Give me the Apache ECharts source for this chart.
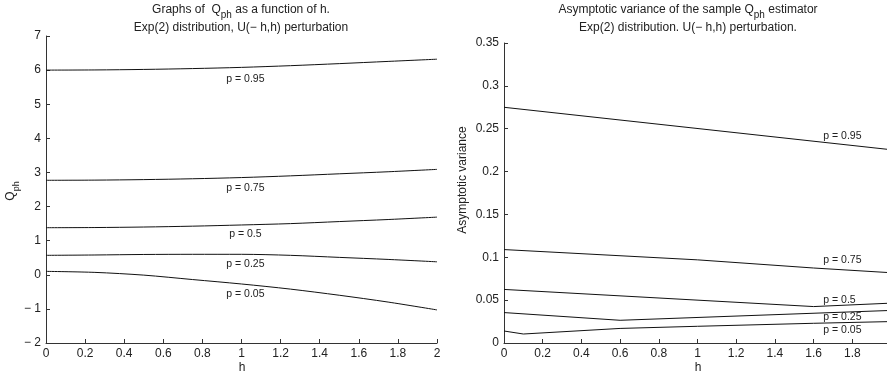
<!DOCTYPE html>
<html><head><meta charset="utf-8">
<script src="https://cdn.jsdelivr.net/npm/echarts@6/dist/echarts.min.js"></script>
<style>html,body{margin:0;padding:0;background:#fff}#c{width:887px;height:377px}</style>
</head><body><div id="c"></div>
<script>
// ---- data: left panel (Q_ph as a function of h) ----
const hLeft = [0, 0.25, 0.5, 0.75, 1, 1.25, 1.5, 1.75, 2];
const q95 = [6.00, 6.005, 6.02, 6.045, 6.08, 6.13, 6.19, 6.255, 6.32];
const q75 = [2.77, 2.775, 2.79, 2.815, 2.85, 2.90, 2.96, 3.02, 3.09];
const q50 = [1.38, 1.385, 1.40, 1.425, 1.46, 1.50, 1.56, 1.62, 1.69];
const q25 = [0.57, 0.58, 0.595, 0.60, 0.60, 0.57, 0.51, 0.45, 0.38];
const q05 = [0.10, 0.07, -0.01, -0.14, -0.27, -0.42, -0.60, -0.80, -1.03];

// ---- data: right panel (asymptotic variance) ----
const hV95 = [0, 2];                     const v95 = [0.275, 0.2255];
const hV75 = [0, 1, 1.6, 2];             const v75 = [0.109, 0.097, 0.0875, 0.082];
const hV50 = [0, 1.6, 2];                const v50 = [0.0625, 0.0425, 0.0465];
const hV25 = [0, 0.6, 2];                const v25 = [0.0355, 0.0265, 0.038];
const hV05 = [0, 0.1, 0.6, 1, 1.6, 2];   const v05 = [0.014, 0.0105, 0.017, 0.0195, 0.023, 0.025];

const curveLabels = ['p = 0.95', 'p = 0.75', 'p = 0.5', 'p = 0.25', 'p = 0.05'];
const xTicks = [0, 0.2, 0.4, 0.6, 0.8, 1, 1.2, 1.4, 1.6, 1.8, 2];

// ---- layout constants ----
const FONT = "'Liberation Sans', Arial, Helvetica, sans-serif";
const leftLabelH = 1.02, leftLabelDy = [12, 10.5, 9.5, 10, 10];
const rightLabelH = 1.65, rightLabelDy = [-6.5, -8, -6, 4, 7];

function pairs(xs, ys) { return xs.map((x, i) => [x, ys[i]]); }
function interp(xs, ys, x) {
  for (let i = 0; i < xs.length - 1; i++) {
    if (x >= xs[i] && x <= xs[i + 1]) {
      const t = (x - xs[i]) / (xs[i + 1] - xs[i]);
      return ys[i] + t * (ys[i + 1] - ys[i]);
    }
  }
  return ys[ys.length - 1];
}
const fmtNum = v => {
  const r = +(+v).toFixed(2);
  return r < 0 ? '\u2212 ' + (-r) : String(r);
};

function mkX(gi) {
  return {
    type: 'value', gridIndex: gi, min: 0, max: 2, interval: 0.2,
    axisLine: { show: true, onZero: false, lineStyle: { color: '#333', width: 1 } },
    axisTick: { show: true, inside: true, length: 4, lineStyle: { color: '#333' } },
    axisLabel: { fontSize: 12, color: '#222', margin: 5, fontFamily: FONT, formatter: fmtNum,
      showMinLabel: true, showMaxLabel: true, hideOverlap: false },
    splitLine: { show: false }
  };
}
function mkY(gi, min, max, interval) {
  return {
    type: 'value', gridIndex: gi, min: min, max: max, interval: interval,
    axisLine: { show: true, onZero: false, lineStyle: { color: '#333', width: 1 } },
    axisTick: { show: true, inside: true, length: 4, lineStyle: { color: '#333' } },
    axisLabel: { fontSize: 12, color: '#222', margin: 5, fontFamily: FONT, formatter: fmtNum },
    splitLine: { show: false }
  };
}

function mkSeries(gi, xs, ys, label, lh, dy, align, smooth) {
  return {
    type: 'line', xAxisIndex: gi, yAxisIndex: gi,
    data: pairs(xs, ys), symbol: 'none', smooth: smooth,
    lineStyle: { color: '#111', width: 1 },
    silent: true,
    markPoint: {
      symbol: 'circle', symbolSize: 0, silent: true, animation: false,
      data: [{
        coord: [lh, interp(xs, ys, lh)],
        label: { show: true, position: 'inside', formatter: label, offset: [0, dy],
          align: align, verticalAlign: 'middle', color: '#222', fontSize: 10.5, fontFamily: FONT }
      }]
    }
  };
}

const leftSets = [q95, q75, q50, q25, q05];
const rightSets = [[hV95, v95], [hV75, v75], [hV50, v50], [hV25, v25], [hV05, v05]];

const series = [];
leftSets.forEach((ys, i) => series.push(mkSeries(0, hLeft, ys, curveLabels[i], leftLabelH, leftLabelDy[i], 'center', 0.3)));
rightSets.forEach((s, i) => series.push(mkSeries(1, s[0], s[1], curveLabels[i], rightLabelH, rightLabelDy[i], 'left', false)));

const txtBase = { fill: '#222', fontFamily: FONT };
const titleRich = {
  a: { fontSize: 12, fontFamily: FONT, color: '#222', verticalAlign: 'bottom', padding: [0, 0, 4, 0], lineHeight: 14 },
  s: { fontSize: 10, fontFamily: FONT, color: '#222', verticalAlign: 'bottom', lineHeight: 12 }
};

const chart = echarts.init(document.getElementById('c'), null, { renderer: 'canvas' });
chart.setOption({
  animation: false,
  backgroundColor: '#fff',
  grid: [
    { left: 46, top: 36, width: 391, height: 307, outerBoundsMode: 'none', containLabel: false },
    { left: 504, top: 43, width: 387, height: 300, outerBoundsMode: 'none', containLabel: false }
  ],
  xAxis: [mkX(0), mkX(1)],
  yAxis: [mkY(0, -2, 7, 1), mkY(1, 0, 0.35, 0.05)],
  series: series,
  graphic: [
    { type: 'text', x: 241, y: 13, style: Object.assign({}, txtBase, {
        text: '{a|Graphs of  Q}{s|ph}{a| as a function of h.}', rich: titleRich, align: 'center', verticalAlign: 'middle' }) },
    { type: 'text', x: 241, y: 28, style: Object.assign({}, txtBase, {
        text: 'Exp(2) distribution, U(\u2212 h,h) perturbation', fontSize: 12, align: 'center', verticalAlign: 'middle' }) },
    { type: 'text', x: 688, y: 13, style: Object.assign({}, txtBase, {
        text: '{a|Asymptotic variance of the sample Q}{s|ph}{a| estimator}', rich: titleRich, align: 'center', verticalAlign: 'middle' }) },
    { type: 'text', x: 688, y: 28, style: Object.assign({}, txtBase, {
        text: 'Exp(2) distribution. U(\u2212 h,h) perturbation.', fontSize: 12, align: 'center', verticalAlign: 'middle' }) },
    { type: 'text', x: 14, y: 191, rotation: Math.PI / 2, style: Object.assign({}, txtBase, {
        text: '{a|Q}{s|ph}', rich: {
          a: { fontSize: 12, fontFamily: FONT, color: '#222', verticalAlign: 'bottom', padding: [0, 0, 4, 0], lineHeight: 14 },
          s: { fontSize: 9, fontFamily: FONT, color: '#222', verticalAlign: 'bottom', lineHeight: 11 }
        }, align: 'center', verticalAlign: 'middle' }) },
    { type: 'text', x: 463, y: 180, rotation: Math.PI / 2, style: Object.assign({}, txtBase, {
        text: 'Asymptotic variance', fontSize: 12, align: 'center', verticalAlign: 'middle' }) },
    { type: 'text', x: 242, y: 368, style: Object.assign({}, txtBase, {
        text: 'h', fontSize: 12, align: 'center', verticalAlign: 'middle' }) },
    { type: 'text', x: 698, y: 368, style: Object.assign({}, txtBase, {
        text: 'h', fontSize: 12, align: 'center', verticalAlign: 'middle' }) }
  ]
});
</script></body></html>
